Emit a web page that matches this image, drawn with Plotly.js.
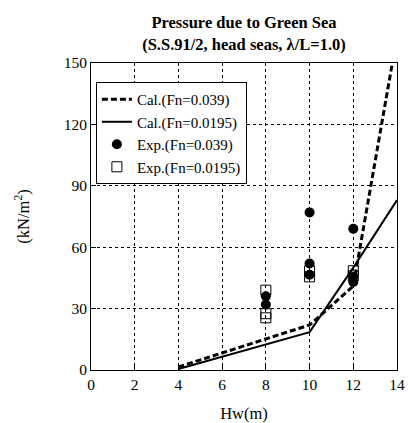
<!DOCTYPE html>
<html>
<head>
<meta charset="utf-8">
<script src="https://cdn.plot.ly/plotly-3.0.1.min.js"></script>
<style>html,body{margin:0;padding:0;background:#fff}</style>
</head>
<body>
<div id="chart" style="width:408px;height:423px"></div>
<script>
const calHighX = [4, 10, 12, 14];
const calHighY = [1.5, 22, 41, 163];
const calLowX = [4, 10, 12, 14];
const calLowY = [0.5, 18.5, 50, 83];
const expHighX = [8, 8, 10, 10, 10, 12, 12, 12];
const expHighY = [36, 32, 77, 52, 46.5, 69, 45.5, 43];
const expLowX = [8, 8, 8, 10, 10, 12, 12];
const expLowY = [39, 27.5, 25.5, 48.5, 45.5, 48.5, 46];
const xTicks = [0, 2, 4, 6, 8, 10, 12, 14];
const yTicks = [0, 30, 60, 90, 120, 150];

const fam = '"Liberation Serif", "Times New Roman", serif';
const font = {family: fam, color: '#000', size: 15.5};

const traces = [
  {x: calHighX, y: calHighY, mode: 'lines', name: 'Cal.(Fn=0.039)',
   line: {color: '#000', width: 3, dash: '6px,3px'}},
  {x: calLowX, y: calLowY, mode: 'lines', name: 'Cal.(Fn=0.0195)',
   line: {color: '#000', width: 2}},
  {x: expHighX, y: expHighY, mode: 'markers', name: 'Exp.(Fn=0.039)',
   marker: {symbol: 'circle', size: 10, color: '#000'}},
  {x: expLowX, y: expLowY, mode: 'markers', name: 'Exp.(Fn=0.0195)',
   marker: {symbol: 'square-open', size: 10, color: '#000', line: {width: 1}}}
];

const axisCommon = {
  showline: true, linecolor: '#000', linewidth: 1, mirror: true,
  showgrid: true, gridcolor: '#000', griddash: 'dot', gridwidth: 1,
  ticks: 'inside', ticklen: 5, tickcolor: '#000',
  zeroline: false, tickfont: font
};

const layout = {
  width: 408, height: 423,
  margin: {l: 91, r: 11, t: 63, b: 53},
  paper_bgcolor: '#fff', plot_bgcolor: '#fff',
  font: font,
  showlegend: true,
  title: {text: '<b>Pressure due to Green Sea</b><br><b>(S.S.91/2, head seas, λ/L=1.0)</b>',
          font: {family: fam, size: 16.5, color: '#000'},
          x: 0.5, xref: 'paper', xanchor: 'center', y: 0.933, yref: 'container', yanchor: 'middle'},
  xaxis: Object.assign({}, axisCommon, {
    range: [0, 14], tickvals: xTicks, ticktext: xTicks.map(String),
    title: {text: 'Hw(m)', font: {family: fam, size: 16.5, color: '#000'}, standoff: 18}
  }),
  yaxis: Object.assign({}, axisCommon, {
    range: [0, 150], tickvals: yTicks, ticktext: yTicks.map(String),
    title: {text: '(kN/m<sup>2</sup>)', font: {family: fam, size: 16.5, color: '#000'}, standoff: 29}
  }),
  legend: {x: 0.016, y: 0.938, xanchor: 'left', yanchor: 'top',
           bordercolor: '#000', borderwidth: 1, bgcolor: '#fff',
           font: {family: fam, size: 15, color: '#000'},
           tracegroupgap: 0, itemwidth: 30}
};

Plotly.newPlot('chart', traces, layout, {displayModeBar: false, staticPlot: true});
</script>
</body>
</html>
